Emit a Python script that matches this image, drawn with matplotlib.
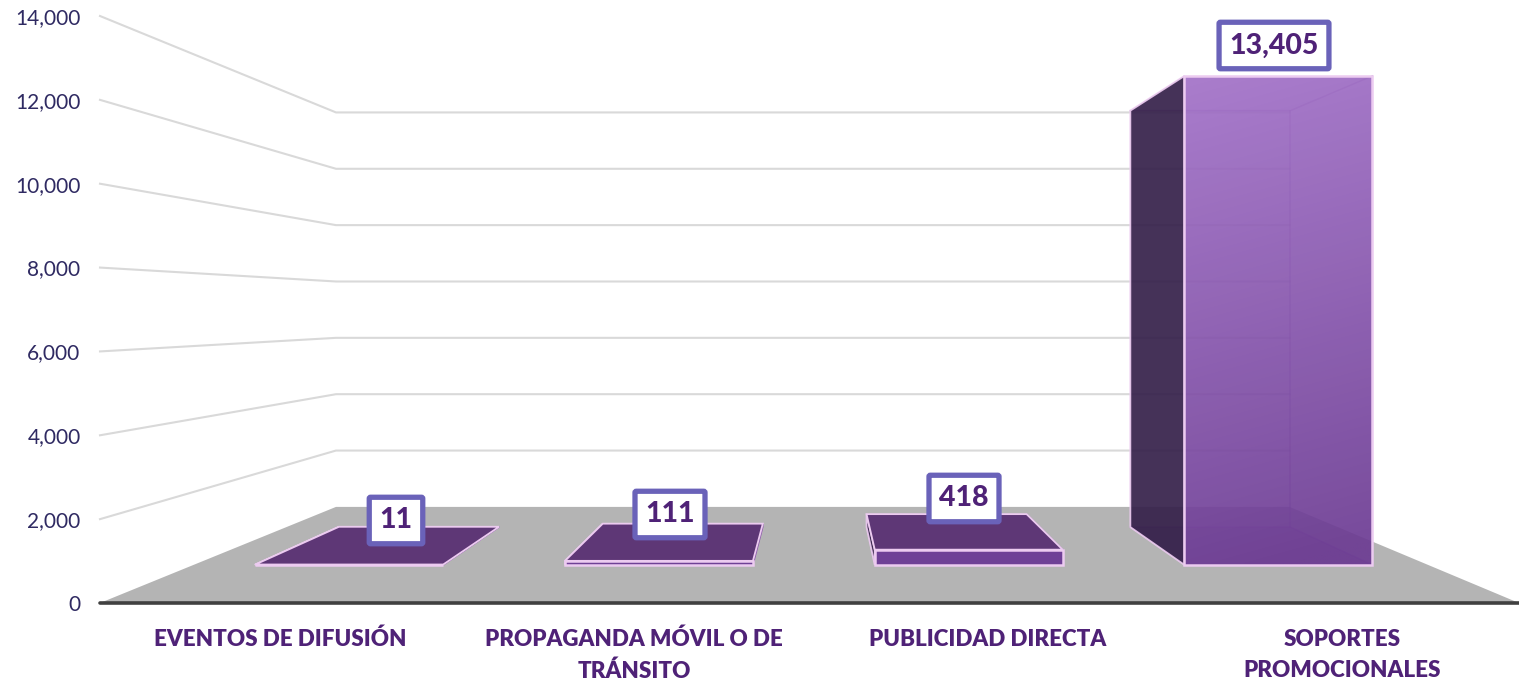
import numpy as np
import matplotlib
matplotlib.use('Agg')
import matplotlib.pyplot as plt
from matplotlib.patches import Polygon

categories = ['EVENTOS DE DIFUSIÓN', 'PROPAGANDA MÓVIL O DE\nTRÁNSITO',
              'PUBLICIDAD DIRECTA', 'SOPORTES\nPROMOCIONALES']
values = [11, 111, 418, 13405]
y_ticks = [0, 2000, 4000, 6000, 8000, 10000, 12000, 14000]

plt.rcParams['font.family'] = ['Lato', 'DejaVu Sans']

# fake 3D: s is the scale at a given depth, points shrink towards the vanishing point
VX, VV = 819.5, 6988
S_FRONT, S_BAR_FRONT, S_BAR_BACK, S_BACK = 1.0, 0.870, 0.741, 0.672
BAR_WIDTH = 216
X_LEFT, X_RIGHT = 100, 1519

PINK = '#eccbf0'
TEXT = '#4f2277'
FIG_W, FIG_H = 1519, 681


def project(x, v, s):
    return VX + (x - VX) * s, VV + (v - VV) * s


def box(x0, x1, v):
    # returns the 8 corners of a bar
    return {
        'fb0': project(x0, 0, S_BAR_FRONT), 'fb1': project(x1, 0, S_BAR_FRONT),
        'ft0': project(x0, v, S_BAR_FRONT), 'ft1': project(x1, v, S_BAR_FRONT),
        'bb0': project(x0, 0, S_BAR_BACK), 'bb1': project(x1, 0, S_BAR_BACK),
        'bt0': project(x0, v, S_BAR_BACK), 'bt1': project(x1, v, S_BAR_BACK),
    }


fig = plt.figure(figsize=(FIG_W / 100, FIG_H / 100), dpi=100)
ax = fig.add_axes([X_LEFT / FIG_W, (FIG_H - 603) / FIG_H, (X_RIGHT - X_LEFT) / FIG_W, 587 / FIG_H])
ax.set_facecolor('none')
for spine in ax.spines.values():
    spine.set_visible(False)

# floor
floor = [project(X_LEFT, 0, S_FRONT), project(X_RIGHT, 0, S_FRONT),
         project(X_RIGHT, 0, S_BACK), project(X_LEFT, 0, S_BACK)]
ax.add_patch(Polygon(floor, closed=True, fc='#b4b4b4', ec='none', zorder=1))

# side wall and back wall gridlines
for t in y_ticks[1:]:
    p0 = project(X_LEFT, t, S_FRONT)
    p1 = project(X_LEFT, t, S_BACK)
    p2 = project(X_RIGHT, t, S_BACK)
    ax.plot([p0[0], p1[0], p2[0]], [p0[1], p1[1], p2[1]], color='#d9d9d9', lw=1.5,
            clip_on=False, zorder=1, solid_joinstyle='miter')

ax.plot([X_LEFT, X_RIGHT], [0, 0], color='#404040', lw=2.6, clip_on=False, zorder=2,
        solid_capstyle='round')

# bars
bar_pos = 101 + 356 * (np.arange(len(values)) + 0.5)
for i, (xc, v) in enumerate(zip(bar_pos, values)):
    x0, x1 = xc - BAR_WIDTH / 2, xc + BAR_WIDTH / 2
    c = box(x0, x1, v)
    tall = v > 5000

    # inner faces first, they show through the front of the tall one
    if tall:
        ax.add_patch(Polygon([c['bb0'], c['bb1'], c['fb1'], c['fb0']], closed=True,
                             fc='#5a3372', ec='none', alpha=0.25, zorder=3))
        ax.plot([c['bt1'][0], c['bb1'][0]], [c['bt1'][1], c['bb1'][1]], color='#8a52ab',
                lw=1.1, alpha=0.45, zorder=4, clip_on=False)
        ax.plot([c['bt0'][0], c['bt1'][0], c['ft1'][0]], [c['bt0'][1], c['bt1'][1], c['ft1'][1]],
                color='#8a52ab', lw=1.1, alpha=0.45, zorder=4, clip_on=False)
        ax.plot([c['bb0'][0], c['bb1'][0], c['fb1'][0]], [c['bb0'][1], c['bb1'][1], c['fb1'][1]],
                color='#8a52ab', lw=1.1, alpha=0.45, zorder=4, clip_on=False)
    else:
        ax.add_patch(Polygon([c['bt1'], c['bb1'], c['fb1'], c['ft1']], closed=True,
                             fc='#5f3a80', ec='#8a52ab', lw=1, alpha=0.9, zorder=4, clip_on=False))
    ax.add_patch(Polygon([c['bt0'], c['bb0'], c['fb0'], c['ft0']], closed=True,
                         fc='#35204a', ec=PINK, lw=1.3, alpha=0.92, zorder=4, clip_on=False))
    if not tall:
        ax.add_patch(Polygon([c['bt0'], c['bt1'], c['ft1'], c['ft0']], closed=True,
                             fc='#5e3776', ec=PINK, lw=1.3, zorder=5))

    # front face with gradient
    front = Polygon([c['fb0'], c['fb1'], c['ft1'], c['ft0']], closed=True,
                    fc='none', ec=PINK, lw=1.8, zorder=7, clip_on=False)
    ax.add_patch(front)
    if tall:
        ys = np.linspace(0, 1, 120)[:, None]
        xs = np.linspace(0, 1, 60)[None, :]
        amount = np.clip(ys * 0.95 + xs * 0.1, 0, 1)
        top_c = np.array(matplotlib.colors.to_rgb('#a271c8'))
        bot_c = np.array(matplotlib.colors.to_rgb('#6c3b93'))
        rgb = top_c[None, None, :] * (1 - amount[..., None]) + bot_c[None, None, :] * amount[..., None]
        rgba = np.dstack([rgb, np.full(amount.shape, 0.92)])
        im = ax.imshow(rgba, extent=[c['fb0'][0], c['fb1'][0], c['fb0'][1], c['ft0'][1]],
                       origin='upper', aspect='auto', zorder=6, interpolation='bilinear',
                       clip_on=False)
    else:
        ax.add_patch(Polygon([c['fb0'], c['fb1'], c['ft1'], c['ft0']], closed=True,
                             fc='#6f4096', ec='none', zorder=6))

# value labels, pixel centres
label_px = [(396, 518), (670, 512), (964, 496), (1274, 43)]
for (px, py), v in zip(label_px, values):
    ax.text((px - X_LEFT) / (X_RIGHT - X_LEFT), (603 - py) / 587, f'{v:,}', transform=ax.transAxes,
            ha='center', va='center_baseline', fontsize=20.5, fontweight='black', color=TEXT, zorder=10,
            bbox=dict(boxstyle='round,pad=0.36,rounding_size=0.05', fc='white', ec='#6a62b9', lw=3.8))

ax.set_xlim(X_LEFT, X_RIGHT)
ax.set_ylim(0, 14000)

ax.set_yticks(y_ticks)
ax.set_yticklabels([f'{t:,}' for t in y_ticks], fontsize=15, color='#2f2a62')
ax.set_xticks(280 + 354 * np.arange(len(categories)))
ax.set_xticklabels(categories, fontsize=16.1, fontweight='heavy', color=TEXT, linespacing=1.6)
ax.tick_params(axis='y', length=0, pad=14)
ax.tick_params(axis='x', length=0, pad=18.5)

fig.savefig('out.png', dpi=100)
